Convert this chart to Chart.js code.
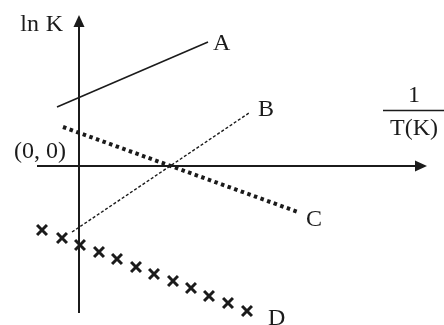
<!DOCTYPE html>
<html>
<head>
<meta charset="utf-8">
<script src="https://cdn.jsdelivr.net/npm/chart.js@4.4.0/dist/chart.umd.min.js"></script>
<style>
  body { margin: 0; background: #fff; }
  #wrap { width: 444px; height: 325px; }
</style>
</head>
<body>
<div id="wrap"><canvas id="myChart"></canvas></div>
<script>
// sketch units: origin of the ln K / (1/T) axes is (0, 0)
const xAxisLine = [[-4.2, 0], [34.6, 0]];
const yAxisLine = [[0, -14.7], [0, 14.9]];

const lineA = [[-2.2, 5.9], [12.9, 12.4]];
const lineB = [[-0.7, -6.6], [17.0, 5.3]];
const lineC = [[-1.6, 3.9], [21.9, -4.6]];

const crossesX = [-3.7, -1.7, 0.1, 2.0, 3.8, 5.7, 7.5, 9.4, 11.2, 13.0, 14.9, 16.8];
const crossesY = [-6.4, -7.2, -7.9, -8.6, -9.3, -10.1, -10.8, -11.5, -12.2, -13.0, -13.7, -14.5];

const seriesNames = ['A', 'B', 'C', 'D'];
const yTitle = 'ln K';
const xTitleTop = '1';
const xTitleBottom = 'T(K)';
const originLabel = '(0, 0)';

const ink = '#1b1b1b';
const serif = '"Liberation Serif", "DejaVu Serif", serif';

const toPts = arr => arr.map(p => ({x: p[0], y: p[1]}));
const crossPts = crossesX.map((x, i) => ({x: x, y: crossesY[i]}));

// offsets of the letter next to the last mark of each series (px)
const nameOffsets = {A: [5, 8], B: [9, 3], C: [8, 14], D: [21, 14]};

const arrowHeads = {
  id: 'arrowHeads',
  afterDatasetsDraw(chart) {
    const ctx = chart.ctx;
    chart.data.datasets.forEach((ds, i) => {
      if (!ds.arrow) return;
      const pts = chart.getDatasetMeta(i).data;
      const a = pts[pts.length - 2], b = pts[pts.length - 1];
      ctx.save();
      ctx.translate(b.x, b.y);
      ctx.rotate(Math.atan2(b.y - a.y, b.x - a.x));
      ctx.beginPath();
      ctx.moveTo(2, 0);
      ctx.lineTo(-10, -5.5);
      ctx.lineTo(-10, 5.5);
      ctx.closePath();
      ctx.fillStyle = ink;
      ctx.fill();
      ctx.restore();
    });
  }
};

const textLabels = {
  id: 'textLabels',
  afterDatasetsDraw(chart) {
    const ctx = chart.ctx;
    const xs = chart.scales.x, ys = chart.scales.y;
    const ox = xs.getPixelForValue(0), oy = ys.getPixelForValue(0);
    const yTip = ys.getPixelForValue(yAxisLine[1][1]);
    const xTip = xs.getPixelForValue(xAxisLine[1][0]);
    ctx.save();
    ctx.fillStyle = ink;
    ctx.strokeStyle = ink;
    ctx.font = '24px ' + serif;
    ctx.textBaseline = 'alphabetic';

    // series letters
    chart.data.datasets.forEach((ds, i) => {
      if (!ds.name) return;
      const pts = chart.getDatasetMeta(i).data;
      const last = pts[pts.length - 1];
      const off = nameOffsets[ds.name];
      ctx.textAlign = 'left';
      ctx.fillText(ds.name, last.x + off[0], last.y + off[1]);
    });

    // axis titles
    ctx.textAlign = 'right';
    ctx.fillText(yTitle.split(' ')[0], ox - 40, yTip + 14);
    ctx.fillText(yTitle.split(' ')[1], ox - 16, yTip + 14);
    ctx.fillText(originLabel, ox - 13, oy - 8);

    const cx = xTip - 12;
    ctx.textAlign = 'center';
    ctx.fillText(xTitleTop, cx + 1, oy - 64);
    ctx.fillText(xTitleBottom, cx + 1, oy - 31);
    ctx.lineWidth = 1.3;
    ctx.beginPath();
    ctx.moveTo(cx - 30, oy - 55.5);
    ctx.lineTo(cx + 31, oy - 55.5);
    ctx.stroke();
    ctx.restore();
  }
};

const data = {
  datasets: [{
    data: toPts(xAxisLine),
    arrow: true,
    borderColor: ink,
    borderWidth: 2,
    pointRadius: 0,
    showLine: true,
  }, {
    data: toPts(yAxisLine),
    arrow: true,
    borderColor: ink,
    borderWidth: 2,
    pointRadius: 0,
    showLine: true,
  }, {
    name: seriesNames[0],
    data: toPts(lineA),
    borderColor: ink,
    borderWidth: 1.6,
    pointRadius: 0,
    showLine: true,
  }, {
    name: seriesNames[1],
    data: toPts(lineB),
    borderColor: ink,
    borderWidth: 1.4,
    borderDash: [3, 2],
    pointRadius: 0,
    showLine: true,
  }, {
    name: seriesNames[2],
    data: toPts(lineC),
    borderColor: ink,
    borderWidth: 4,
    borderDash: [3.5, 3.5],
    borderCapStyle: 'butt',
    pointRadius: 0,
    showLine: true,
  }, {
    name: seriesNames[3],
    data: crossPts,
    borderColor: ink,
    backgroundColor: ink,
    borderWidth: 3,
    pointStyle: 'crossRot',
    pointRadius: 7,
    showLine: false,
  }]
};

const config = {
  type: 'scatter',
  data: data,
  options: {
    responsive: true,
    maintainAspectRatio: false,
    animation: false,
    layout: { padding: 0, autoPadding: false },
    elements: { line: { tension: 0 } },
    datasets: { scatter: { clip: false } },
    scales: {
      x: { type: 'linear', display: false, min: -7.9, max: 36.5 },
      y: { type: 'linear', display: false, min: -15.9, max: 16.6 }
    },
    plugins: {
      legend: { display: false },
      tooltip: { enabled: false }
    }
  },
  plugins: [arrowHeads, textLabels]
};

const myChart = new Chart(
  document.getElementById('myChart'),
  config
);
</script>
</body>
</html>
